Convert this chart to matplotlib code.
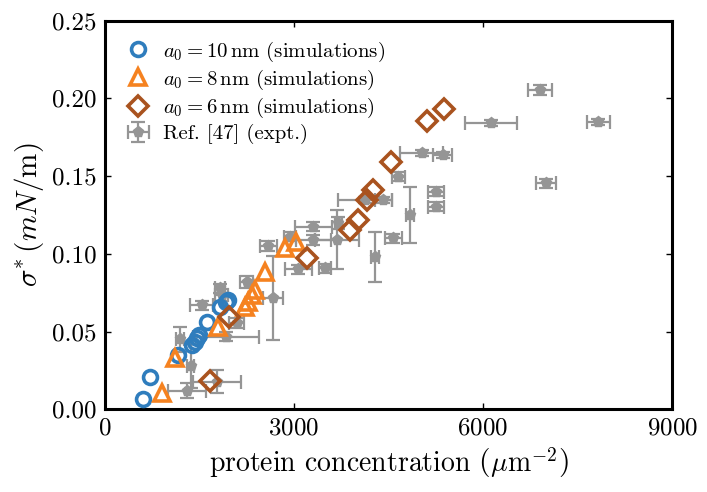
import matplotlib
matplotlib.use("Agg")
from matplotlib import pyplot as plt

plt.rcParams["font.family"] = "serif"
plt.rcParams["font.serif"] = ["cmr10"]
plt.rcParams["mathtext.fontset"] = "cm"
plt.rcParams["axes.formatter.use_mathtext"] = True

# simulations
x_10nm = [598, 714, 1164, 1376, 1429, 1465, 1497, 1624, 1825, 1921, 1957]
y_10nm = [0.0064, 0.0206, 0.0347, 0.0414, 0.0435, 0.0457, 0.0478, 0.0563, 0.0660, 0.0692, 0.0703]

x_8nm = [900, 1111, 1798, 2222, 2275, 2329, 2381, 2540, 2857, 3032]
y_8nm = [0.0103, 0.0328, 0.0531, 0.0660, 0.0692, 0.0735, 0.0768, 0.0885, 0.1036, 0.1078]

x_6nm = [1667, 1973, 3202, 3889, 4021, 4154, 4259, 4546, 5116, 5381]
y_6nm = [0.0184, 0.0592, 0.0971, 0.1153, 0.1218, 0.1347, 0.1411, 0.1593, 0.1857, 0.1930]

# experiment, Ref. [47]
x_exp = [6905, 6127, 7830, 7000, 5360, 5027, 5254, 5254, 4656, 4418,
         4841, 4577, 4286, 4127, 3703, 3687, 3307, 3307, 3492, 3069,
         2937, 2593, 2672, 2249, 2090, 1921, 1852, 1535, 1825, 1190,
         1360, 1300, 1773]
y_exp = [0.2054, 0.184, 0.185, 0.1454, 0.1636, 0.165, 0.140, 0.1303, 0.1497, 0.1347,
         0.125, 0.110, 0.098, 0.1347, 0.120, 0.109, 0.109, 0.1175, 0.0907, 0.090,
         0.111, 0.105, 0.0714, 0.082, 0.0555, 0.0467, 0.0735, 0.0669, 0.0778, 0.045,
         0.028, 0.012, 0.0178]
xerr_exp = [185, 410, 180, 153, 150, 345, 125, 125, 100, 130,
            60, 132, 60, 424, 60, 350, 278, 290, 95, 212,
            100, 132, 160, 100, 120, 524, 100, 185, 80, 60,
            60, 300, 383]
yerr_exp = [0.003, 0.002, 0.002, 0.003, 0.002, 0.002, 0.003, 0.003, 0.003, 0.002,
            0.018, 0.003, 0.016, 0.002, 0.004, 0.019, 0.003, 0.003, 0.003, 0.003,
            0.003, 0.003, 0.027, 0.004, 0.003, 0.003, 0.004, 0.003, 0.003, 0.008,
            0.014, 0.005, 0.0075]

fig = plt.figure(figsize=(7.07, 4.92), dpi=100)
ax = fig.add_axes([0.1485, 0.168, 0.802, 0.79])

ax.plot(x_10nm, y_10nm, "o", ms=10, mfc="none", mec="#2f7dbd", mew=2.6,
        label=r"$a_0 = 10\,\mathrm{nm}$ (simulations)", zorder=3)
ax.plot(x_8nm, y_8nm, "^", ms=11.5, mfc="none", mec="#f58220", mew=2.6,
        label=r"$a_0 = 8\,\mathrm{nm}$ (simulations)", zorder=3)
ax.plot(x_6nm, y_6nm, "D", ms=10, mfc="none", mec="#a9531f", mew=2.6,
        label=r"$a_0 = 6\,\mathrm{nm}$ (simulations)", zorder=3)
ax.errorbar(x_exp, y_exp, xerr=xerr_exp, yerr=yerr_exp, fmt="p", ms=8,
            color="#959595", ecolor="#959595", elinewidth=1.6, capsize=5,
            capthick=1.6, label="Ref. [47] (expt.)", zorder=2)

ax.set_xlim(0, 9000)
ax.set_ylim(0, 0.25)
ax.set_xticks([0, 3000, 6000, 9000])
ax.set_yticks([0, 0.05, 0.10, 0.15, 0.20, 0.25])
ax.yaxis.set_major_formatter(matplotlib.ticker.FormatStrFormatter("%.2f"))
ax.tick_params(direction="in", top=True, right=True, length=4, width=1,
               labelsize=18, pad=6)
for s in ax.spines.values():
    s.set_linewidth(2.2)

ax.set_xlabel(r"protein concentration $\left(\mu\mathrm{m}^{-2}\right)$", fontsize=20)
ax.set_ylabel(r"$\sigma^{*}\,(mN/\mathrm{m})$", fontsize=21)
ax.legend(loc="upper left", frameon=False, fontsize=15, numpoints=1,
          handlelength=1.4, handletextpad=0.5, labelspacing=0.2,
          borderaxespad=0.5)

fig.savefig("out.png", dpi=100)
